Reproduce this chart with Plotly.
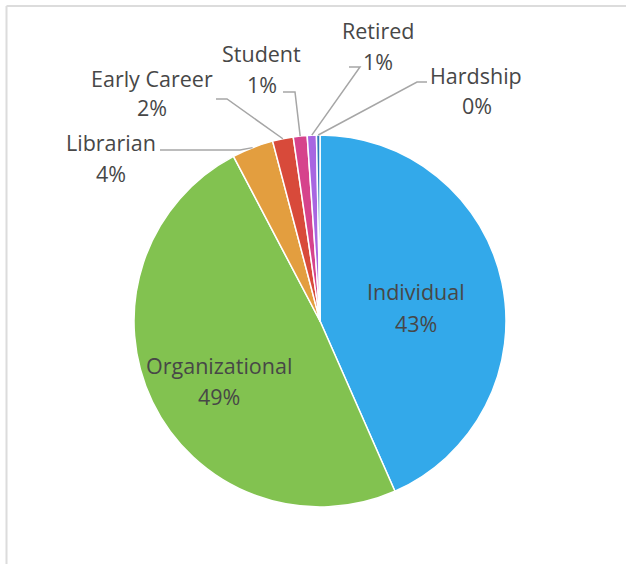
import math
import plotly.graph_objects as go

# Membership mix by type
categories = ["Individual", "Organizational", "Librarian", "Early Career",
              "Student", "Retired", "Hardship"]
shares = [43.4, 48.9, 3.6, 1.8, 1.2, 0.8, 0.3]
colors = ["#33A9EA", "#82C250", "#E39E3F", "#D84A3A", "#D6438C", "#A866E1", "#2D78B8"]

W, H = 626, 564
FONT = "Open Sans"
TEXT = "#474747"

# pie placement in pixels
CX, CY, R = 320, 321, 186

total = sum(shares)
pcts = [round(v / total * 100) for v in shares]


def px(x):
    return x / W


def py(y):
    return 1 - y / H


def edge_point(i):
    """Point on the rim at the middle of slice i (clockwise from 12 o'clock)."""
    start = sum(shares[:i]) / total * 360
    mid = start + shares[i] / total * 360 / 2
    a = math.radians(mid)
    return CX + R * math.sin(a), CY - R * math.cos(a)


fig = go.Figure(go.Pie(
    labels=categories,
    values=shares,
    sort=False,
    direction="clockwise",
    rotation=0,
    marker=dict(colors=colors, line=dict(color="white", width=1.5)),
    textinfo="none",
    hoverinfo="label+percent",
    showlegend=False,
    domain=dict(x=[px(CX - R), px(CX + R)], y=[py(CY + R), py(CY - R)]),
))

# label layout: (name centre, percent centre)
label_pos = {
    "Individual": ((416, 291), (416, 323)),
    "Organizational": ((219, 365), (219, 396)),
    "Librarian": ((111, 143), (111, 173)),
    "Early Career": ((152, 78), (152, 108)),
    "Student": ((261, 53), (262, 84)),
    "Retired": ((378, 30), (378, 61)),
    "Hardship": ((476, 76), (477, 105)),
}

# leader line elbows for outside labels: (start, bend)
leaders = {
    "Librarian": ((160, 150), (240, 150)),
    "Early Career": ((216, 99), (227, 99)),
    "Student": ((283, 92), (295, 92)),
    "Retired": ((349, 67), (360, 67)),
    "Hardship": ((427, 82), (417, 82)),
}

annotations = []
for name, pct in zip(categories, pcts):
    (nx, ny), (qx, qy) = label_pos[name]
    for txt, x, y in ((name, nx, ny), (f"{pct}%", qx, qy)):
        annotations.append(dict(
            text=txt, x=px(x), y=py(y), xref="paper", yref="paper",
            xanchor="center", yanchor="middle", showarrow=False,
            font=dict(family=FONT, size=21.5, color=TEXT),
        ))

# chart title, sitting above the visible area
annotations.append(dict(
    text="Membership by type", x=px(8), y=py(2), xref="paper", yref="paper",
    xanchor="left", yanchor="bottom", showarrow=False,
    font=dict(family=FONT, size=24, color="#000000"),
))

shapes = []
for name, ((sx, sy), (bx, by)) in leaders.items():
    ex, ey = edge_point(categories.index(name))
    shapes.append(dict(
        type="path", xref="paper", yref="paper",
        path=f"M {px(sx)},{py(sy)} L {px(bx)},{py(by)} L {px(ex)},{py(ey)}",
        line=dict(color="#A6A6A6", width=1.5),
    ))

# chart-area frame (left and top edges)
shapes.append(dict(type="line", xref="paper", yref="paper",
                   x0=px(6.5), y0=py(6), x1=px(6.5), y1=0,
                   line=dict(color="#DCDCDC", width=2)))
shapes.append(dict(type="line", xref="paper", yref="paper",
                   x0=px(6.5), y0=py(6), x1=1, y1=py(6),
                   line=dict(color="#DCDCDC", width=2)))

fig.update_layout(
    width=W, height=H,
    margin=dict(l=0, r=0, t=0, b=0),
    paper_bgcolor="white",
    plot_bgcolor="white",
    annotations=annotations,
    shapes=shapes,
)

fig.write_html("out.html")
